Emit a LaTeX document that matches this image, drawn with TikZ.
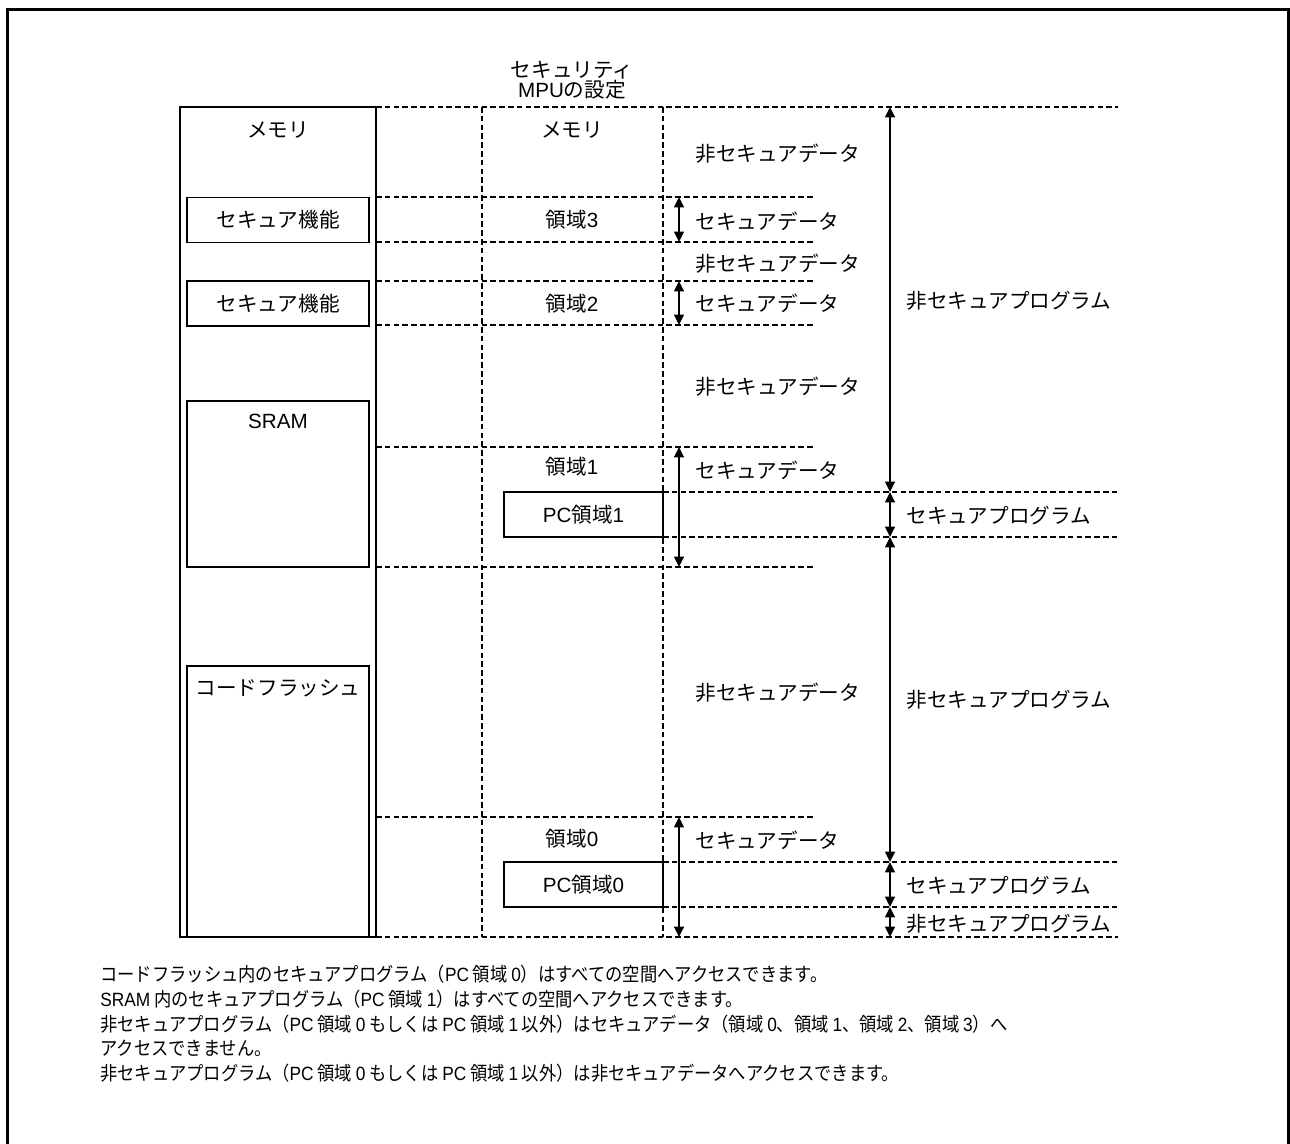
\documentclass[tikz,border=0pt]{standalone}
\usepackage{fontspec}
\setmainfont{Noto Sans CJK JP}
\newfontfamily\arialfont{Liberation Sans}
\newfontfamily\notefont[FakeStretch=0.9]{Noto Sans CJK JP}
\newfontfamily\notearial[FakeStretch=0.9]{Liberation Sans}
\newcommand{\ar}[1]{{\arialfont #1}}
\newcommand{\nl}[1]{{\notearial #1}}
\newcommand{\js}{\hspace{0.2em}}
\usepackage{tikz}
\usetikzlibrary{arrows.meta}

\begin{document}
\begin{tikzpicture}[x=0.5pt, y=-0.5pt,
    thin line/.style={line width=0.7pt},
    dash rule/.style={line width=1.4pt, dash pattern=on 2.8pt off 1.6pt},
    dim arrow/.style={line width=0.7pt, {Triangle[length=5.2pt,width=5pt]}-{Triangle[length=5.2pt,width=5pt]}},
    tag/.style={inner sep=0pt, font=\fontsize{10.3}{10.3}\selectfont},
    boxed/.style={tag, draw, thin line, minimum height=22.5pt}]
  \useasboundingbox (0,0) rectangle (1290,1144);
  \draw[line width=1.5pt] (7.5,1150) -- (7.5,9.5) -- (1288.5,9.5) -- (1288.5,1150);

  % memory map on the left
  \draw[thin line] (180,107) rectangle (376,937);
  \node[tag] (mem) at (278,130) {メモリ};
  \node[boxed, minimum width=91pt] (func3) at (278,220) {セキュア機能};
  \node[boxed, minimum width=91pt] (func2) at (278,303.5) {セキュア機能};
  \draw[thin line] (187,401) rectangle (369,567);
  \node[tag] (sram) at (278,421) {\ar{SRAM}};
  \draw[thin line] (187,666) rectangle (369,937);
  \node[tag] (flash) at (278,688) {コードフラッシュ};

  % security MPU settings
  \node[tag, align=center, font=\fontsize{10.3}{10}\selectfont] (mpu) at (572,80) {セキュリティ\\\ar{MPU}の設定};
  \node[tag] (mpumem) at (572,130) {メモリ};
  \node[tag] (area3) at (572,220) {領域\ar{3}};
  \node[tag] (area2) at (572,303.5) {領域\ar{2}};
  \node[tag] (area1) at (572,467) {領域\ar{1}};
  \node[tag] (area0) at (572,838.5) {領域\ar{0}};
  \node[boxed, minimum width=79.5pt] (pc1) at (583.5,514.5) {\ar{PC}領域\ar{1}};
  \node[boxed, minimum width=79.5pt] (pc0) at (583.5,884.5) {\ar{PC}領域\ar{0}};

  \draw[dash rule] (376,107) -- (1118,107);
  \foreach \y in {197,242,281,325,447,567,817}
    \draw[dash rule] (376,\y) -- (815,\y);
  \foreach \y in {492,537,862,907}
    \draw[dash rule] (663,\y) -- (1118,\y);
  \draw[dash rule] (376,937) -- (1118,937);
  \draw[dash rule] (482,107) -- (482,937);
  \draw[dash rule] (663,107) -- (663,937);

  % data ranges
  \foreach \a/\b [count=\i] in {197/242, 281/325, 447/567, 817/937} {
    \coordinate (d\i top) at (679,\a);
    \coordinate (d\i bot) at (679,\b);
    \draw[dim arrow] (d\i top) -- (d\i bot);
  }
  \node[tag, anchor=west] (nsd1) at (695,154) {非セキュアデータ};
  \node[tag, anchor=west] (sd3) at (695,221) {セキュアデータ};
  \node[tag, anchor=west] (nsd2) at (695,263.5) {非セキュアデータ};
  \node[tag, anchor=west] (sd2) at (695,303) {セキュアデータ};
  \node[tag, anchor=west] (nsd3) at (695,387) {非セキュアデータ};
  \node[tag, anchor=west] (sd1) at (695,470) {セキュアデータ};
  \node[tag, anchor=west] (nsd4) at (695,693) {非セキュアデータ};
  \node[tag, anchor=west] (sd0) at (695,840) {セキュアデータ};

  % program ranges
  \foreach \a/\b [count=\i] in {107/492, 492/537, 537/862, 862/907, 907/937} {
    \coordinate (p\i top) at (890,\a);
    \coordinate (p\i bot) at (890,\b);
    \draw[dim arrow] (p\i top) -- (p\i bot);
  }
  \node[tag, anchor=west] (nsp1) at (906,301) {非セキュアプログラム};
  \node[tag, anchor=west] (sp1) at (906,516) {セキュアプログラム};
  \node[tag, anchor=west] (nsp2) at (906,700) {非セキュアプログラム};
  \node[tag, anchor=west] (sp0) at (906,886) {セキュアプログラム};
  \node[tag, anchor=west] (nsp3) at (906,924) {非セキュアプログラム};

  % notes
  \foreach \txt [count=\i] in {
      コードフラッシュ内のセキュアプログラム（\nl{PC}\js 領域\js\nl{0}）はすべての空間へアクセスできます。,
      \nl{SRAM}\js 内のセキュアプログラム（\nl{PC}\js 領域\js\nl{1}）はすべての空間へアクセスできます。,
      非セキュアプログラム（\nl{PC}\js 領域\js\nl{0}\js もしくは\js\nl{PC}\js 領域\js\nl{1}\js 以外）はセキュアデータ（領域\js\nl{0}、領域\js\nl{1}、領域\js\nl{2}、領域\js\nl{3}）へ,
      アクセスできません。,
      非セキュアプログラム（\nl{PC}\js 領域\js\nl{0}\js もしくは\js\nl{PC}\js 領域\js\nl{1}\js 以外）は非セキュアデータへアクセスできます。}
    \node[inner sep=0pt, anchor=base west, font=\notefont\fontsize{9.6}{12}\selectfont] (note\i) at (100,956.75+24.75*\i) {\txt};
\end{tikzpicture}
\end{document}
